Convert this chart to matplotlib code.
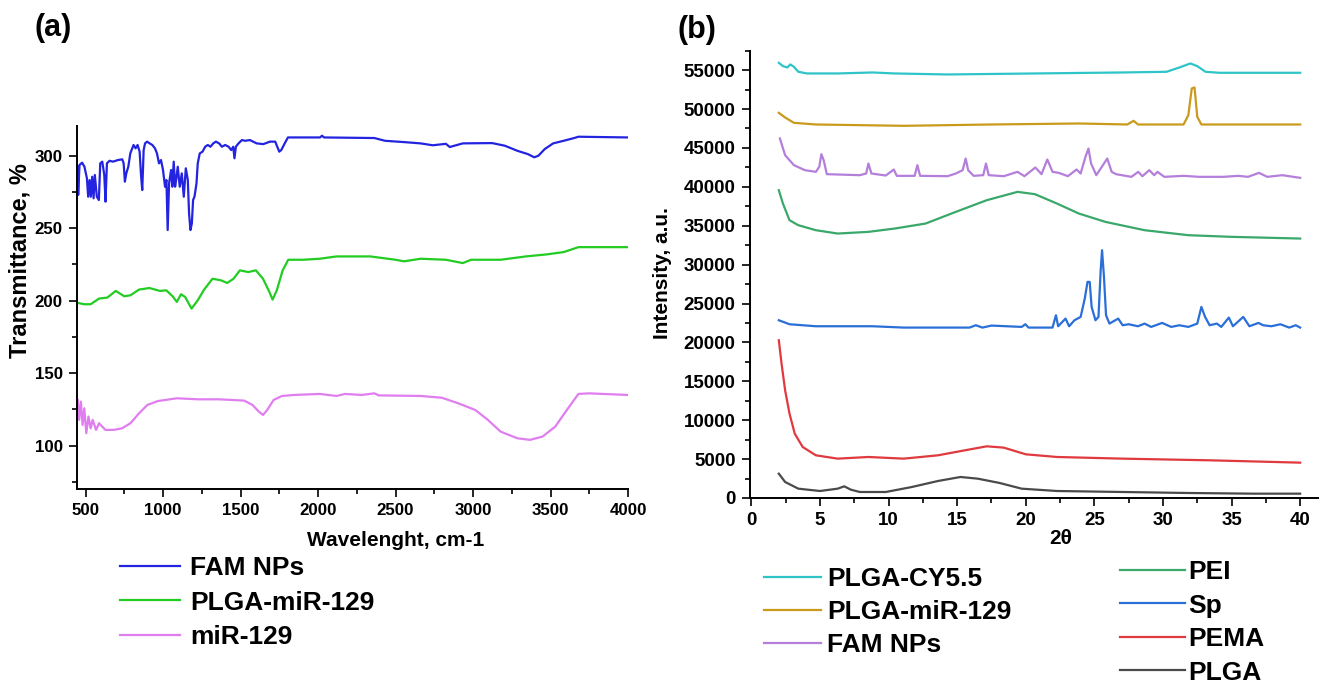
import numpy as np
import matplotlib
matplotlib.use('Agg')
import matplotlib.pyplot as plt
from matplotlib.ticker import MultipleLocator

plt.rcParams['font.family'] = ['Liberation Sans', 'DejaVu Sans']
plt.rcParams['font.weight'] = 'bold'

# ---- (a) FTIR ----
fam_ftir_x = [450, 452.5, 461, 478, 493, 509, 517, 526, 534, 543, 552, 560, 573, 586, 595, 608, 621, 629,
              638, 655, 677, 709, 737, 746, 754, 763, 776, 789, 797, 810, 823, 836, 849, 858, 866, 875,
              884, 897, 914, 931, 948, 961, 974, 987, 1000, 1013, 1022, 1030, 1039, 1052, 1060, 1069,
              1078, 1086, 1095, 1108, 1121, 1134, 1147, 1160, 1168, 1177, 1186, 1194, 1203, 1216, 1224,
              1237, 1255, 1272, 1289, 1306, 1324, 1341, 1362, 1380, 1401, 1423, 1440, 1453, 1461, 1470,
              1487, 1509, 1530, 1561, 1604, 1647, 1690, 1724, 1737, 1750, 1763, 1785, 1806, 1841, 2013,
              2026, 2039, 2364, 2432, 2554, 2662, 2740, 2825, 2850, 2934, 3015, 3124, 3205, 3286, 3354,
              3395, 3422, 3463, 3517, 3585, 3653, 3680, 4000]
fam_ftir_y = [292.4, 272.9, 293.6, 295.2, 292.4, 284.4, 271.7, 283.2, 271.7, 285.5, 270.6, 286.7, 271.7,
              269.4, 294.7, 295.9, 286.7, 268.3, 294.7, 296.5, 295.9, 297.0, 297.5, 294.7, 282.1, 287.8,
              292.4, 301.6, 303.9, 307.4, 305.1, 307.4, 302.8, 286.7, 276.3, 303.9, 308.5, 309.7, 308.5,
              307.4, 305.1, 301.6, 294.7, 297.0, 290.1, 278.6, 283.2, 248.7, 280.9, 290.1, 278.6, 295.9,
              278.6, 284.4, 292.4, 278.6, 287.8, 271.7, 291.3, 283.2, 260.2, 248.7, 253.3, 269.4, 271.7,
              280.9, 294.7, 301.6, 302.8, 306.2, 307.4, 306.2, 308.5, 309.7, 308.5, 306.2, 307.4, 306.2,
              303.9, 306.2, 298.2, 306.2, 308.5, 310.8, 310.3, 310.8, 308.5, 308.0, 309.7, 309.7, 306.2,
              302.8, 303.9, 308.5, 312.6, 312.6, 312.6, 313.8, 312.6, 312.2, 310.3, 309.4, 308.5, 307.2,
              308.2, 306.0, 308.5, 308.6, 308.7, 306.9, 303.4, 301.1, 298.9, 300.0, 304.6, 308.5, 310.3,
              312.2, 313.1, 312.6]

plga_mir_ftir_x = [450, 492, 533, 587, 641, 695, 750, 790, 845, 912, 980, 1021, 1062, 1089, 1116, 1143,
                   1184, 1224, 1265, 1319, 1374, 1414, 1455, 1496, 1550, 1599, 1645, 1686, 1707, 1734,
                   1772, 1808, 1903, 2011, 2120, 2337, 2500, 2554, 2662, 2825, 2934, 2988, 3178, 3341,
                   3476, 3585, 3680, 4000]
plga_mir_ftir_y = [198.4, 197.5, 197.5, 201.4, 202.1, 206.7, 203.0, 203.7, 207.6, 208.7, 206.7, 207.1,
                   203.0, 199.1, 204.4, 202.5, 194.5, 200.2, 207.6, 215.1, 214.0, 212.2, 215.1, 220.9,
                   219.7, 220.9, 215.1, 206.0, 200.7, 207.1, 220.9, 228.2, 228.2, 228.9, 230.5, 230.5,
                   228.2, 227.1, 228.9, 228.2, 225.9, 228.2, 228.2, 230.5, 231.9, 233.5, 236.9, 236.9]

mir_ftir_x = [450, 459, 470, 481, 492, 505, 519, 533, 546, 568, 587, 628, 682, 736, 790, 845, 899, 967,
              1089, 1224, 1360, 1523, 1577, 1618, 1645, 1672, 1713, 1767, 1848, 2011, 2120, 2174, 2282,
              2364, 2391, 2662, 2798, 2906, 3015, 3096, 3178, 3286, 3368, 3449, 3531, 3598, 3680, 3748, 4000]
mir_ftir_y = [131.4, 117.7, 130.3, 114.2, 125.7, 108.5, 120.0, 111.9, 117.7, 110.8, 115.4, 110.8, 110.8,
              111.9, 115.4, 122.2, 128.0, 130.7, 132.6, 131.9, 131.9, 131.0, 128.0, 123.4, 121.1, 124.5,
              131.4, 134.2, 134.9, 135.6, 134.2, 135.6, 134.9, 136.0, 134.6, 134.2, 133.0, 129.1, 124.5,
              117.7, 109.6, 105.0, 103.9, 106.2, 113.1, 123.4, 135.6, 136.0, 134.9]

# ---- (b) XRD ----
cy55_x = [2.0, 2.3, 2.62, 2.84, 3.1, 3.42, 4.06, 6.29, 8.85, 10.45, 14.3, 20.67, 27.06, 30.26, 31.2, 32.0,
          32.5, 33.1, 34.1, 40.0]
cy55_y = [55945, 55517, 55345, 55731, 55431, 54788, 54574, 54574, 54702, 54574, 54445, 54574, 54702,
          54788, 55345, 55860, 55517, 54788, 54660, 54660]

plga_mir_x = [2.0, 2.46, 3.1, 4.7, 11.1, 17.5, 23.9, 27.4, 27.86, 28.18, 31.5, 31.85, 32.1, 32.3, 32.5,
              32.8, 40.0]
plga_mir_y = [49515, 48915, 48229, 48015, 47843, 48015, 48143, 48015, 48486, 48015, 48015, 49215, 52644,
              52773, 49000, 48015, 48015]

fam_x = [2.08, 2.46, 3.1, 3.9, 4.7, 4.95, 5.1, 5.27, 5.5, 7.9, 8.37, 8.53, 8.75, 9.8, 10.38, 10.6, 11.9,
         12.1, 12.3, 14.3, 14.9, 15.4, 15.62, 15.8, 16.2, 16.9, 17.1, 17.3, 18.4, 19.4, 19.9, 20.7, 21.15,
         21.57, 21.95, 22.4, 23.07, 23.7, 24.0, 24.35, 24.57, 24.76, 25.14, 25.7, 25.94, 26.26, 26.58,
         27.7, 28.2, 28.5, 29.0, 29.36, 29.6, 30.1, 31.5, 32.65, 34.4, 35.5, 36.2, 37.0, 37.6, 38.7, 40.0]
fam_y = [46214, 44071, 42785, 42142, 41927, 42571, 44200, 43428, 41627, 41499, 41713, 42999, 41713, 41456,
         42228, 41413, 41413, 42785, 41413, 41370, 41713, 42142, 43642, 42142, 41413, 41499, 42999, 41499,
         41370, 41927, 41370, 42485, 41627, 43514, 41927, 41799, 41370, 42228, 41713, 43857, 44928, 42999,
         41499, 42999, 43642, 41927, 41627, 41284, 41927, 41370, 42142, 41499, 41927, 41284, 41413, 41284,
         41284, 41413, 41284, 41799, 41284, 41499, 41156]

pei_x = [2.0, 2.3, 2.78, 3.42, 4.7, 6.29, 8.53, 10.45, 12.7, 14.9, 17.16, 19.4, 20.67, 22.27, 23.87, 25.8,
         28.66, 31.85, 35.05, 40.0]
pei_y = [39569, 37854, 35711, 35068, 34425, 33996, 34211, 34639, 35282, 36782, 38283, 39355, 39055, 37854,
         36568, 35497, 34425, 33782, 33568, 33353]

sp_x = [2.0, 2.78, 4.7, 8.85, 11.1, 15.9, 16.36, 16.84, 17.5, 19.7, 19.97, 20.2, 21.95, 22.2, 22.36, 22.9,
        23.16, 23.55, 24.0, 24.3, 24.5, 24.66, 24.8, 25.08, 25.3, 25.46, 25.56, 25.7, 25.85, 26.1, 26.74,
        27.06, 27.5, 28.18, 28.66, 29.14, 29.94, 30.6, 31.2, 31.85, 32.5, 32.8, 33.07, 33.4, 33.93, 34.25,
        34.8, 35.1, 35.85, 36.3, 36.96, 37.3, 37.9, 38.56, 39.2, 39.68, 40.0]
sp_y = [22850, 22336, 22078, 22078, 21907, 21907, 22207, 21907, 22164, 21993, 22336, 21907, 21907, 23493,
        22078, 23064, 22078, 22850, 23279, 25636, 27780, 27780, 24565, 22850, 23279, 29280, 31853, 28423,
        23493, 22421, 23064, 22207, 22336, 22078, 22421, 21993, 22507, 21993, 22207, 21993, 22421, 24565,
        23279, 22207, 22421, 21993, 23193, 22078, 23279, 22078, 22507, 22207, 22078, 22336, 21907, 22207,
        21907]

pema_x = [2.0, 2.2, 2.46, 2.78, 3.16, 3.74, 4.7, 6.29, 8.53, 11.1, 13.6, 15.56, 17.16, 18.4, 20.0, 22.27,
          27.06, 33.45, 40.0]
pema_y = [20278, 17277, 13847, 10846, 8274, 6559, 5487, 5059, 5273, 5059, 5487, 6130, 6645, 6473, 5616,
          5273, 5059, 4844, 4544]

plga_x = [2.0, 2.46, 3.42, 5.0, 6.29, 6.77, 7.25, 7.9, 9.8, 11.7, 13.6, 15.24, 16.5, 18.1, 19.7, 22.27,
          27.06, 31.85, 36.6, 40.0]
plga_y = [3130, 2058, 1200, 900, 1200, 1500, 1072, 772, 772, 1415, 2186, 2701, 2486, 1929, 1200, 900, 772,
          643, 557, 557]

W, H = 1328, 690
fig = plt.figure(figsize=(W / 100, H / 100), dpi=100)


def rect(x0, y0, x1, y1):
    return [x0 / W, 1 - y1 / H, (x1 - x0) / W, (y1 - y0) / H]


def style(ax, size):
    for s in ['top', 'right']:
        ax.spines[s].set_visible(False)
    for s in ['left', 'bottom']:
        ax.spines[s].set_linewidth(1.4)
    ax.tick_params(which='major', direction='out', length=5.8, width=1.2, labelsize=size, pad=4.5)
    ax.tick_params(which='minor', direction='out', length=3.5, width=1.2)
    for lab in ax.get_xticklabels() + ax.get_yticklabels():
        lab.set_fontweight('bold')


lw = 1.6
ax1 = fig.add_axes(rect(77, 126, 628, 489))
l1, = ax1.plot(fam_ftir_x, fam_ftir_y, color='#2323e0', lw=lw, label='FAM NPs')
l2, = ax1.plot(plga_mir_ftir_x, plga_mir_ftir_y, color='#22cc22', lw=lw, label='PLGA-miR-129')
l3, = ax1.plot(mir_ftir_x, mir_ftir_y, color='#e07ef0', lw=lw, label='miR-129')
ax1.set_xlim(445, 4000)
ax1.set_ylim(70, 320.5)
ax1.xaxis.set_major_locator(MultipleLocator(500))
ax1.xaxis.set_minor_locator(MultipleLocator(250))
ax1.yaxis.set_major_locator(MultipleLocator(50))
ax1.yaxis.set_minor_locator(MultipleLocator(25))
style(ax1, 12.2)

ax2 = fig.add_axes(rect(750, 50.7, 1318, 498))
r1, = ax2.plot(cy55_x, cy55_y, color='#2ec4c8', lw=lw, label='PLGA-CY5.5')
r2, = ax2.plot(plga_mir_x, plga_mir_y, color='#c99a1c', lw=lw, label='PLGA-miR-129')
r3, = ax2.plot(fam_x, fam_y, color='#b47fda', lw=lw, label='FAM NPs')
r4, = ax2.plot(pei_x, pei_y, color='#3aa86a', lw=lw, label='PEI')
r5, = ax2.plot(sp_x, sp_y, color='#2a6fd8', lw=lw, label='Sp')
r6, = ax2.plot(pema_x, pema_y, color='#e0393e', lw=lw, label='PEMA')
r7, = ax2.plot(plga_x, plga_y, color='#4a4a4a', lw=lw, label='PLGA')
ax2.set_xlim(-0.1, 41.3)
ax2.set_ylim(0, 57500)
ax2.xaxis.set_major_locator(MultipleLocator(5))
ax2.xaxis.set_minor_locator(MultipleLocator(2.5))
ax2.yaxis.set_major_locator(MultipleLocator(5000))
ax2.yaxis.set_minor_locator(MultipleLocator(2500))
style(ax2, 13.5)

# axis titles placed where the original has them
fig.text(20 / W, 1 - 261 / H, 'Transmittance, %', fontsize=17, fontweight='bold', rotation=90,
         ha='center', va='center')
fig.text(396 / W, 1 - 540 / H, 'Wavelenght, cm-1', fontsize=15, fontweight='bold', ha='center', va='center')
fig.text(663 / W, 1 - 273 / H, 'Intensity, a.u.', fontsize=15, fontweight='bold', rotation=90,
         ha='center', va='center')
fig.text(1061 / W, 1 - 538 / H, '2θ', fontsize=15, fontweight='bold', ha='center', va='center')

fig.text(53 / W, 1 - 28 / H, '(a)', fontsize=22, fontweight='bold', ha='center', va='center')
fig.text(697 / W, 1 - 30 / H, '(b)', fontsize=22, fontweight='bold', ha='center', va='center')

fs = 19
kw = dict(frameon=False, loc='upper left', borderpad=0, borderaxespad=0,
          prop={'size': fs, 'weight': 'bold'})
fig.legend(handles=[l1, l2, l3], bbox_to_anchor=(120 / W, 1 - 556 / H), handlelength=2.27,
           handletextpad=0.38, labelspacing=0.4, **kw)
fig.legend(handles=[r1, r2, r3], bbox_to_anchor=(764 / W, 1 - 567 / H), handlelength=2.16,
           handletextpad=0.23, labelspacing=0.34, **kw)
fig.legend(handles=[r4, r5, r6, r7], bbox_to_anchor=(1120 / W, 1 - 560 / H), handlelength=2.46,
           handletextpad=0.12, labelspacing=0.36, **kw)

fig.savefig('out.png', dpi=100)
